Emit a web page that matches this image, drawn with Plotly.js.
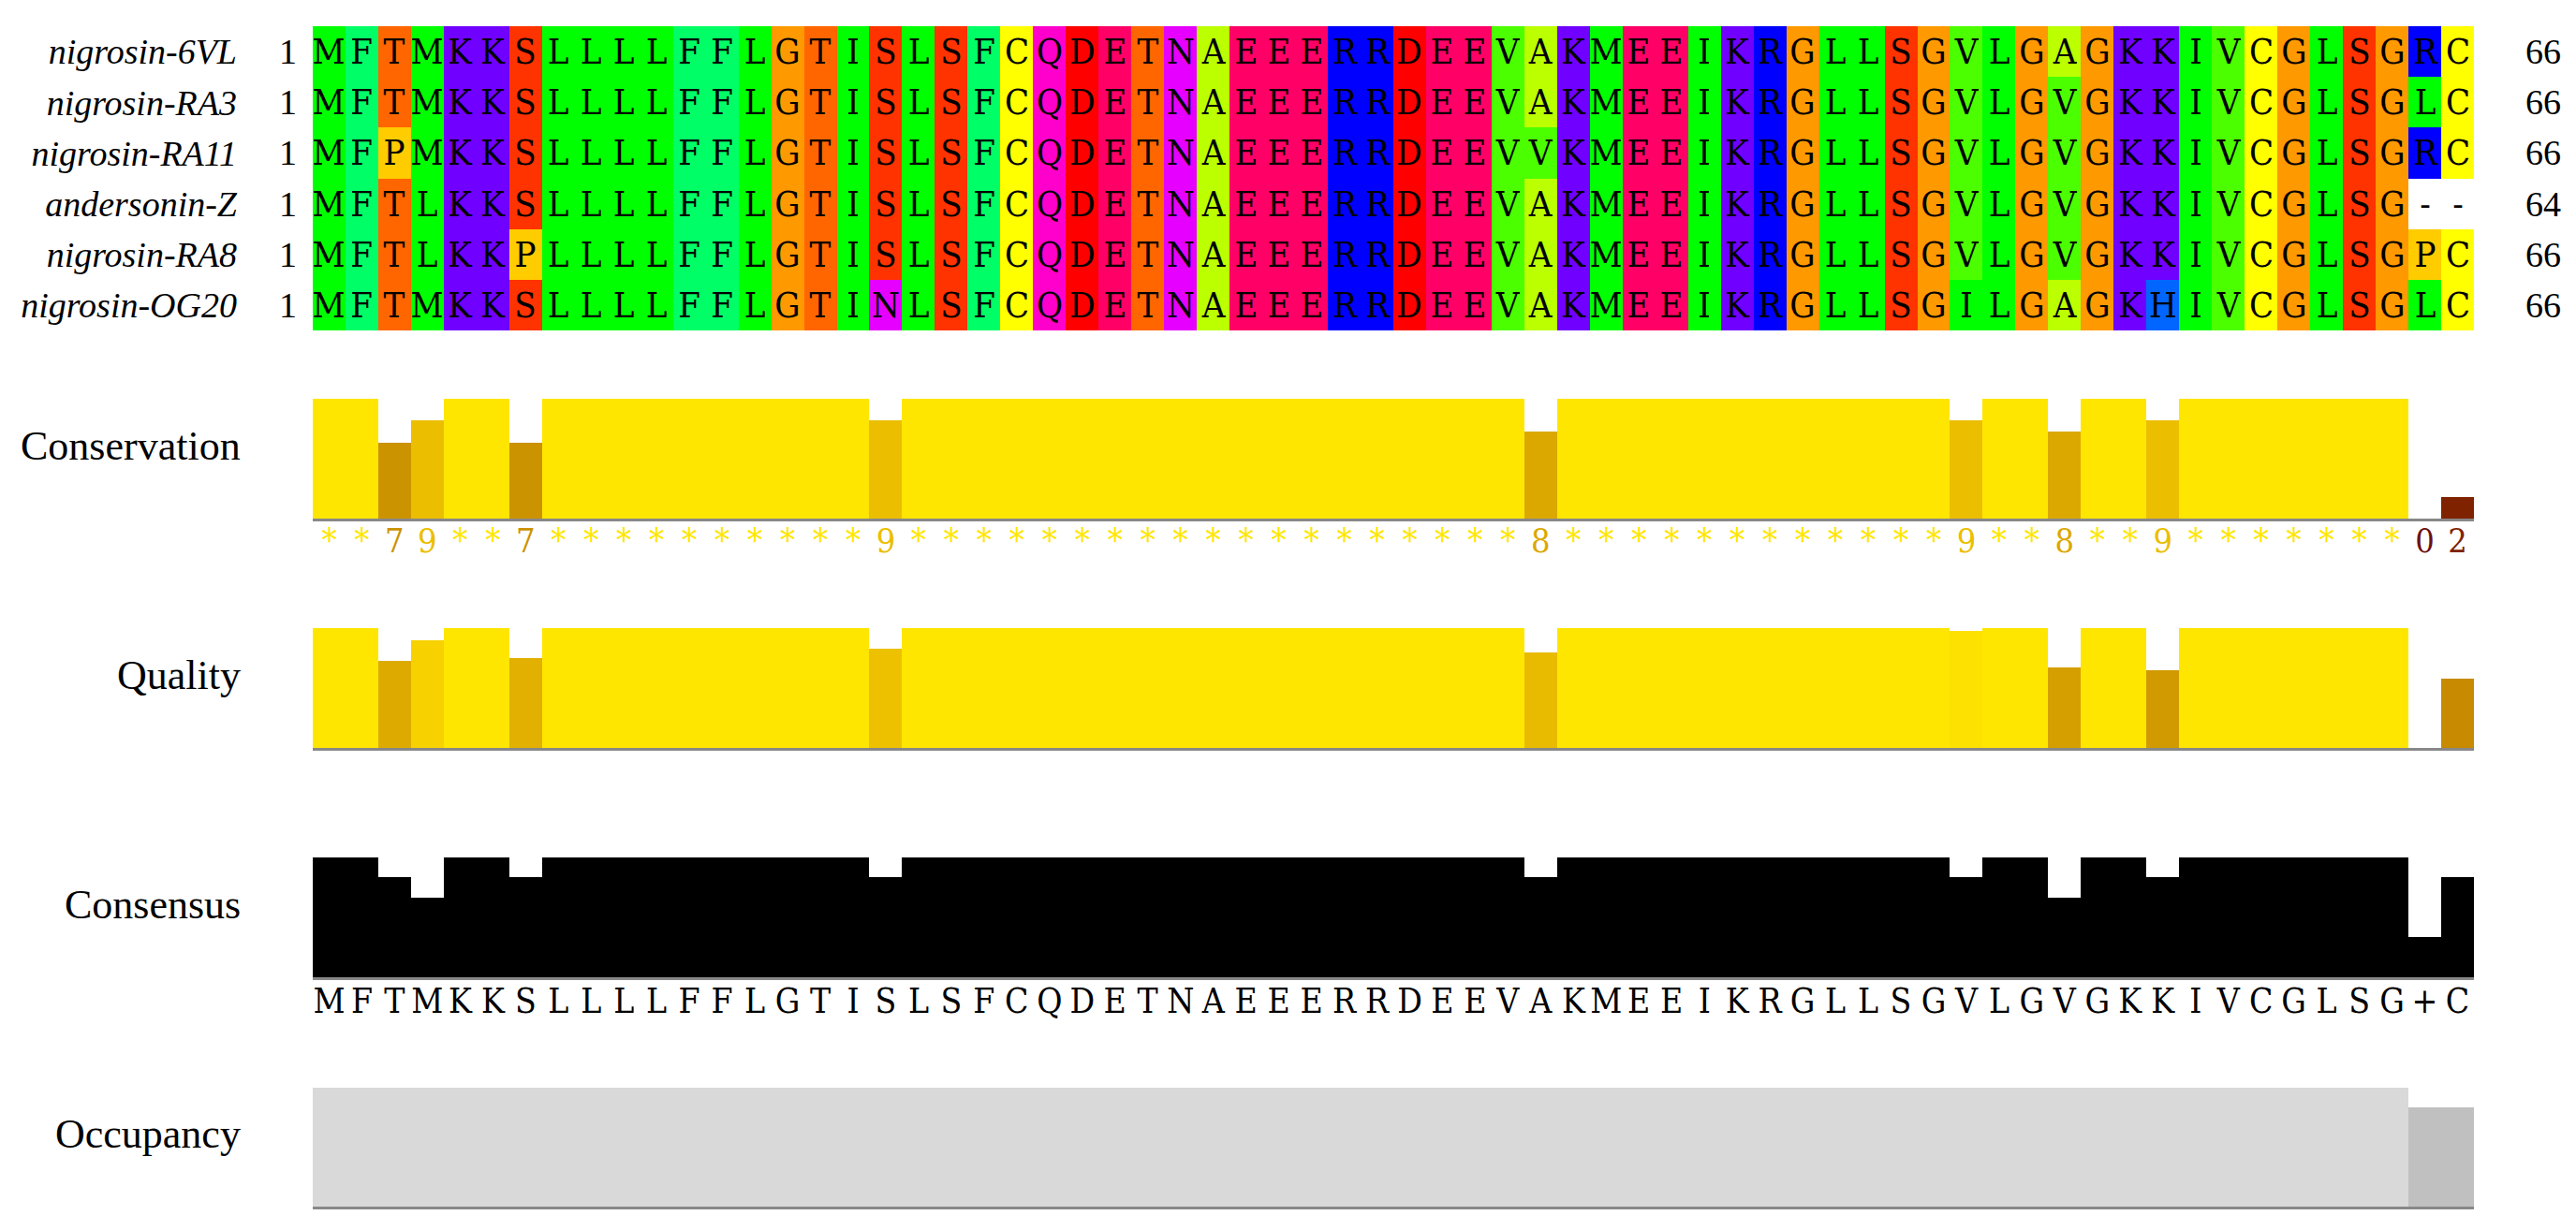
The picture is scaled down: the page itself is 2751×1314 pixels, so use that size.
<!DOCTYPE html>
<html>
<head>
<meta charset="utf-8">
<script src="https://cdn.plot.ly/plotly-3.0.1.min.js"></script>
<style>html,body{margin:0;padding:0;background:#fff;}#chart{width:2751px;height:1314px;}</style>
</head>
<body>
<div id="chart"></div>
<script>
// ---------------- DATA ----------------
const seqNames = ["nigrosin-6VL", "nigrosin-RA3", "nigrosin-RA11", "andersonin-Z", "nigrosin-RA8", "nigrosin-OG20"];
const sequences = [
  "MFTMKKSLLLLFFLGTISLSFCQDETNAEEERRDEEVAKMEEIKRGLLSGVLGAGKKIVCGLSGRC",
  "MFTMKKSLLLLFFLGTISLSFCQDETNAEEERRDEEVAKMEEIKRGLLSGVLGVGKKIVCGLSGLC",
  "MFPMKKSLLLLFFLGTISLSFCQDETNAEEERRDEEVVKMEEIKRGLLSGVLGVGKKIVCGLSGRC",
  "MFTLKKSLLLLFFLGTISLSFCQDETNAEEERRDEEVAKMEEIKRGLLSGVLGVGKKIVCGLSG--",
  "MFTLKKPLLLLFFLGTISLSFCQDETNAEEERRDEEVAKMEEIKRGLLSGVLGVGKKIVCGLSGPC",
  "MFTMKKSLLLLFFLGTINLSFCQDETNAEEERRDEEVAKMEEIKRGLLSGILGAGKHIVCGLSGLC"
];
const startPos = [1, 1, 1, 1, 1, 1];
const endPos = [66, 66, 66, 64, 66, 66];

const rowLabels = ["Conservation", "Quality", "Consensus", "Occupancy"];

const conservation = [
  11,11,7,9,11,11,7,11,11,11,11,
  11,11,11,11,11,11,9,11,11,11,11,
  11,11,11,11,11,11,11,11,11,11,11,
  11,11,11,11,8,11,11,11,11,11,11,
  11,11,11,11,11,11,9,11,11,8,11,
  11,9,11,11,11,11,11,11,11,0,2
];
const quality = [
  1,1,0.727,0.898,1,1,0.75,1,1,1,1,
  1,1,1,1,1,1,0.826,1,1,1,1,
  1,1,1,1,1,1,1,1,1,1,1,
  1,1,1,1,0.80,1,1,1,1,1,1,
  1,1,1,1,1,1,0.974,1,1,0.674,1,
  1,0.648,1,1,1,1,1,1,1,0,0.576
];
const consensusPct = [
  100,100,83.3,66.7,100,100,83.3,100,100,100,100,
  100,100,100,100,100,100,83.3,100,100,100,100,
  100,100,100,100,100,100,100,100,100,100,100,
  100,100,100,100,83.3,100,100,100,100,100,100,
  100,100,100,100,100,100,83.3,100,100,66.7,100,
  100,83.3,100,100,100,100,100,100,100,33.3,83.3
];
const consensusSeq = "MFTMKKSLLLLFFLGTISLSFCQDETNAEEERRDEEVAKMEEIKRGLLSGVLGVGKKIVCGLSG+C";
const occupancy = [
  6,6,6,6,6,6,6,6,6,6,6,
  6,6,6,6,6,6,6,6,6,6,6,
  6,6,6,6,6,6,6,6,6,6,6,
  6,6,6,6,6,6,6,6,6,6,6,
  6,6,6,6,6,6,6,6,6,6,6,
  6,6,6,6,6,6,6,6,6,5,5
];

// ---------------- STYLE ----------------
const residueColors = {
  A:'#BBFF00', R:'#0000FF', N:'#E600FF', D:'#FF0000', C:'#FFFF00', Q:'#FF00CC',
  E:'#FF0066', G:'#FF9900', H:'#0066FF', I:'#00FF00', L:'#00FF00', K:'#7000FF',
  M:'#00FF00', F:'#00FF66', P:'#FFCC00', S:'#FF3300', T:'#FF6600', V:'#4CFF00',
  W:'#00CCFF', Y:'#00FFCC', '-':'#FFFFFF'
};
const consScale = [[0,'#6E1010'],[2/11,'#7F2200'],[7/11,'#CC9300'],[8/11,'#DBA800'],[9/11,'#EBBE00'],[1,'#FFE600']];
const qualScale = [[0,'#BC7C00'],[(0.576-0.5)/0.5,'#C78A00'],[(0.727-0.5)/0.5,'#DDAB00'],[(0.898-0.5)/0.5,'#F8D100'],[1,'#FFE600']];
const occScale = [[0,'#808080'],[5/6,'#C0C0C0'],[1,'#D9D9D9']];

function hex2rgb(h){return [parseInt(h.substr(1,2),16),parseInt(h.substr(3,2),16),parseInt(h.substr(5,2),16)];}
function scaleColor(scale, t){
  t = Math.max(0, Math.min(1, t));
  for (let i = 1; i < scale.length; i++) {
    if (t <= scale[i][0]) {
      const a = scale[i-1], b = scale[i];
      const f = (t - a[0]) / (b[0] - a[0] || 1);
      const ca = hex2rgb(a[1]), cb = hex2rgb(b[1]);
      return 'rgb(' + ca.map((v,k)=>Math.round(v + (cb[k]-v)*f)).join(',') + ')';
    }
  }
  return scale[scale.length-1][1];
}

const W = 2751, H = 1314, L = 334, R = 109;
const plotW = W - L - R;
function dom(top, bottom){ return [1 - bottom / H, 1 - top / H]; }
function px2paperX(px){ return (px - L) / plotW; }

const nCols = sequences[0].length;
const cols = [];
for (let c = 1; c <= nCols; c++) cols.push(c);

// heatmap matrix
const letters = Object.keys(residueColors);
const z = sequences.map(s => s.split('').map(ch => letters.indexOf(ch)));
const txt = sequences.map(s => s.split(''));
const hmScale = letters.map((ch, k) => [k / (letters.length - 1), residueColors[ch]]);

const seqFont = "'DejaVu Serif Condensed', 'DejaVu Serif', serif";
const labFont = "'Liberation Serif', 'Times New Roman', serif";

const traces = [];
traces.push({
  type: 'heatmap', x: cols, y: seqNames.map((_, i) => i), z: z,
  text: txt, texttemplate: '%{text}',
  textfont: {family: seqFont, size: 38, color: '#000'},
  colorscale: hmScale, zmin: 0, zmax: letters.length - 1,
  showscale: false, hoverinfo: 'skip', xaxis: 'x', yaxis: 'y'
});
traces.push({
  type: 'bar', x: cols, y: conservation, width: 1,
  marker: {color: conservation, cmin: 0, cmax: 11, colorscale: consScale, line: {width: 0}},
  xaxis: 'x2', yaxis: 'y2', hoverinfo: 'skip'
});
traces.push({
  type: 'scatter', mode: 'text', x: cols, y: cols.map(() => 0),
  text: conservation.map(v => v === 11 ? '*' : String(v)),
  textposition: 'middle center', cliponaxis: false,
  textfont: {family: seqFont, size: 36, color: conservation.map(v => scaleColor(consScale, v / 11))},
  xaxis: 'x6', yaxis: 'y6', hoverinfo: 'skip'
});
traces.push({
  type: 'bar', x: cols, y: quality, width: 1,
  marker: {color: quality, cmin: 0.5, cmax: 1, colorscale: qualScale, line: {width: 0}},
  xaxis: 'x3', yaxis: 'y3', hoverinfo: 'skip'
});
traces.push({
  type: 'bar', x: cols, y: consensusPct, width: 1,
  marker: {color: '#000000', line: {width: 0}},
  xaxis: 'x4', yaxis: 'y4', hoverinfo: 'skip'
});
traces.push({
  type: 'scatter', mode: 'text', x: cols, y: cols.map(() => 0),
  text: consensusSeq.split(''), textposition: 'middle center', cliponaxis: false,
  textfont: {family: seqFont, size: 37, color: '#000'},
  xaxis: 'x7', yaxis: 'y7', hoverinfo: 'skip'
});
traces.push({
  type: 'bar', x: cols, y: occupancy, width: 1,
  marker: {color: occupancy, cmin: 0, cmax: 6, colorscale: occScale, line: {width: 0}},
  xaxis: 'x5', yaxis: 'y5', hoverinfo: 'skip'
});

const xr = [0.5, nCols + 0.5];
function xax(anchor, line){
  return {anchor: anchor, range: xr, showgrid: false, zeroline: false, showticklabels: false, ticks: '',
          showline: line, linecolor: '#888888', linewidth: 3, fixedrange: true};
}
function yax(d, range){
  return {domain: d, range: range, showgrid: false, zeroline: false, showticklabels: false, ticks: '', showline: false, fixedrange: true};
}

const doms = {
  aln: dom(28, 353), cons: dom(426, 554), consLab: dom(556, 606), qual: dom(671, 799),
  consen: dom(916, 1044), consenLab: dom(1048, 1098), occ: dom(1162, 1289)
};

const annotations = [];
seqNames.forEach((n, i) => {
  annotations.push({xref: 'paper', yref: 'y', x: px2paperX(307), y: i, text: String(startPos[i]),
    showarrow: false, xanchor: 'center', yanchor: 'middle', font: {family: labFont, size: 38, color: '#000'}});
  annotations.push({xref: 'paper', yref: 'y', x: px2paperX(2695), y: i, text: String(endPos[i]),
    showarrow: false, xanchor: 'left', yanchor: 'middle', font: {family: labFont, size: 38, color: '#000'}});
});
const labelY = [476, 721, 966, 1211];
rowLabels.forEach((t, i) => {
  annotations.push({xref: 'paper', yref: 'paper', x: px2paperX(259), y: 1 - labelY[i] / H, text: t,
    showarrow: false, xanchor: 'right', yanchor: 'middle', font: {family: labFont, size: 44, color: '#000'}});
});

const layout = {
  width: W, height: H,
  margin: {l: L, r: R, t: 0, b: 0, pad: 0},
  paper_bgcolor: '#ffffff', plot_bgcolor: 'rgba(0,0,0,0)',
  showlegend: false, bargap: 0,
  xaxis: xax('y', false), xaxis2: xax('y2', true), xaxis3: xax('y3', true), xaxis4: xax('y4', true), xaxis5: xax('y5', true),
  xaxis6: xax('y6', false), xaxis7: xax('y7', false),
  yaxis: {domain: doms.aln, range: [seqNames.length - 0.5, -0.5], showgrid: false, zeroline: false, ticks: '',
          tickvals: seqNames.map((_, i) => i), ticktext: seqNames, ticklabelstandoff: 80,
          tickfont: {family: labFont, size: 38, style: 'italic', color: '#000'}, fixedrange: true},
  yaxis2: yax(doms.cons, [0, 11]),
  yaxis3: yax(doms.qual, [0, 1]),
  yaxis4: yax(doms.consen, [0, 100]),
  yaxis5: yax(doms.occ, [0, 6]),
  yaxis6: yax(doms.consLab, [-1, 1]),
  yaxis7: yax(doms.consenLab, [-1, 1]),
  annotations: annotations
};

Plotly.newPlot('chart', traces, layout, {staticPlot: true, displayModeBar: false});
</script>
</body>
</html>
